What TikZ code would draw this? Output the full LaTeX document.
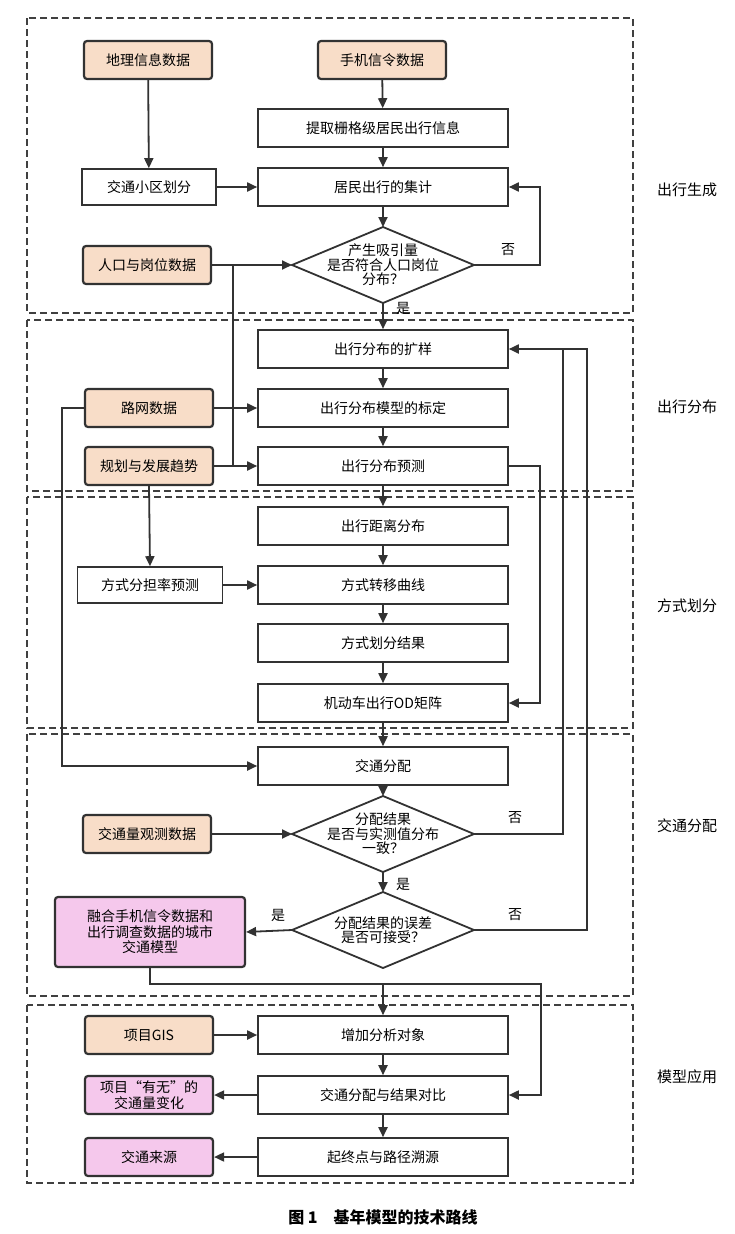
\documentclass[tikz,border=0pt]{standalone}
\usepackage{fontspec}
\setmainfont{Noto Sans CJK SC}
\usetikzlibrary{calc, arrows.meta}
\tikzset{>={Triangle[length=10pt,width=9pt]}}
\definecolor{datafill}{RGB}{248,221,200}
\definecolor{resfill}{RGB}{245,200,236}
\definecolor{linegray}{RGB}{50,50,50}
\tikzset{
  stepbox/.style = {draw=linegray, line width=1.6pt, minimum width=250pt, minimum height=38pt, font=\fontsize{14}{16}\selectfont},
  sidebox/.style = {draw=linegray, line width=1.6pt, minimum width=134pt, minimum height=36pt, font=\fontsize{14}{16}\selectfont},
  databox/.style = {draw=linegray, line width=2.2pt, rounded corners=3pt, fill=datafill, minimum width=128pt, minimum height=38pt, font=\fontsize{14}{16}\selectfont},
  resbox/.style = {databox, fill=resfill, align=center, font=\fontsize{14}{15.5}\selectfont},
  section/.style = {draw=black!75, dashed, dash pattern=on 7pt off 4pt, line width=1.8pt},
  dialabel/.style = {align=center, font=\fontsize{14}{14.5}\selectfont},
  yesno/.style = {font=\fontsize{14}{16}\selectfont},
  flow/.style = {draw=linegray, line width=1.8pt, ->},
  plain/.style = {draw=linegray, line width=1.8pt}
}
% diamond with compass coordinates
\newcommand{\decision}[3]{
   \coordinate (#1-n) at ($ (#2)+(0,-38) $);
   \coordinate (#1-s) at ($ (#2)+(0,38) $);
   \coordinate (#1-w) at ($ (#2)+(-91,0) $);
   \coordinate (#1-e) at ($ (#2)+(91,0) $);
   \draw[linegray, line width=1.8pt, fill=white] (#1-n) -- (#1-e) -- (#1-s) -- (#1-w) -- cycle;
   \node[dialabel] (#1) at (#2) {#3};
}

\begin{document}
\begin{tikzpicture}[x=1pt, y=-1pt]
		\useasboundingbox (0,0) rectangle (734,1234);

		% Sections
		\draw[section] (27,18) rectangle (633,313);
		\draw[section] (27,320) rectangle (633,491);
		\draw[section] (27,497) rectangle (633,728);
		\draw[section] (27,734) rectangle (633,996);
		\draw[section] (27,1005) rectangle (633,1183);
		\foreach \y/\name in {190/出行生成, 407/出行分布, 606/方式划分, 826/交通分配, 1077/模型应用}
			\node[font=\fontsize{15}{17}\selectfont] at (687,\y) {\name};

		% Trip generation
		\node[databox] (phone) at (382,60) {手机信令数据};
		\node[databox] (geo) at (148,60) {地理信息数据};
		\node[stepbox] (extract) at (383,128) {提取栅格级居民出行信息};
		\node[stepbox] (aggr) at (383,187) {居民出行的集计};
		\node[sidebox] (zone) at (149,187) {交通小区划分};
		\node[databox] (popu) at (147,265) {人口与岗位数据};
		\decision{chk1}{383,265}{产生吸引量\\是否符合人口岗位\\分布？}

		% Trip distribution
		\node[stepbox] (expand) at (383,349) {出行分布的扩样};
		\node[stepbox] (calib) at (383,408) {出行分布模型的标定};
		\node[stepbox] (pred) at (383,466) {出行分布预测};
		\node[databox] (road) at (149,408) {路网数据};
		\node[databox] (plan) at (149,466) {规划与发展趋势};

		% Mode split
		\node[stepbox] (dist) at (383,526) {出行距离分布};
		\node[stepbox] (curve) at (383,585) {方式转移曲线};
		\node[stepbox] (split) at (383,643) {方式划分结果};
		\node[stepbox] (od) at (383,703) {机动车出行OD矩阵};
		\node[sidebox, minimum width=145pt] (share) at (150,585) {方式分担率预测};

		% Assignment
		\node[stepbox] (assign) at (383,766) {交通分配};
		\decision{chk2}{383,834}{分配结果\\是否与实测值分布\\一致？}
		\node[databox] (count) at (147,834) {交通量观测数据};
		\decision{chk3}{383,930}{分配结果的误差\\是否可接受？}
		\node[resbox, minimum width=190pt, minimum height=70pt] (fused) at (150,932) {融合手机信令数据和\\出行调查数据的城市\\交通模型};

		% Application
		\node[stepbox] (addobj) at (383,1035) {增加分析对象};
		\node[stepbox] (compare) at (383,1095) {交通分配与结果对比};
		\node[stepbox] (trace) at (383,1157) {起终点与路径溯源};
		\node[databox] (gis) at (149,1035) {项目GIS};
		\node[resbox] (change) at (149,1095) {项目“有无”的\\交通量变化};
		\node[resbox] (source) at (149,1157) {交通来源};

		% Main flow
		\draw[flow] (phone) -- (extract);
		\draw[flow] (extract) -- (aggr);
		\draw[flow] (aggr) -- (chk1-n);
		\draw[flow] (chk1-s) -- (expand);
		\draw[flow] (expand) -- (calib);
		\draw[flow] (calib) -- (pred);
		\draw[flow] (pred) -- (dist);
		\draw[flow] (dist) -- (curve);
		\draw[flow] (curve) -- (split);
		\draw[flow] (split) -- (od);
		\draw[flow] (od) -- (assign);
		\draw[flow] (assign) -- (chk2-n);
		\draw[flow] (chk2-s) -- (chk3-n);
		\draw[flow] (addobj) -- (compare);
		\draw[flow] (compare) -- (trace);

		% Side inputs
		\draw[flow] (geo) -- (zone);
		\draw[flow] (zone) -- (aggr);
		\draw[flow] (popu) -- (chk1-w);
		\draw[plain] (popu.east -| 233,0) -- (233,466);
		\draw[flow] (road) -- (calib);
		\draw[flow] (plan) -- (pred);
		\draw[flow] (road.west) -- (62,408) -- (62,766) -- (assign.west);
		\draw[flow] (plan.south) -- (share.north);
		\draw[flow] (share) -- (curve);
		\draw[flow] (count) -- (chk2-w);
		\draw[flow] (chk3-w) -- (fused.east);
		\draw[flow] (gis) -- (addobj);
		\draw[flow] (compare) -- (change);
		\draw[flow] (trace) -- (source);

		% Feedback loops
		\draw[flow] (chk1-e) -- (540,265) -- (540,187) -- (aggr.east);
		\draw[flow] (pred.east) -- (540,466) -- (540,703) -- (od.east);
		\draw[plain] (chk2-e) -- (563,834) -- (563,349);
		\draw[flow] (chk3-e) -- (587,930) -- (587,349) -- (expand.east);
		\draw[flow] (fused.south) -- (150,984) -- (383,984) -- (addobj.north);
		\draw[flow] (383,984) -- (541,984) -- (541,1095) -- (compare.east);

		% Labels
		\node[yesno] at (508,250) {否};
		\node[yesno] at (403,308) {是};
		\node[yesno] at (515,818) {否};
		\node[yesno] at (403,884) {是};
		\node[yesno] at (515,915) {否};
		\node[yesno] at (278,915) {是};

		% Caption
		\node[font=\fontsize{16}{18}\selectfont\bfseries] at (383,1217) {图 1\quad 基年模型的技术路线};
	\end{tikzpicture}
\end{document}
